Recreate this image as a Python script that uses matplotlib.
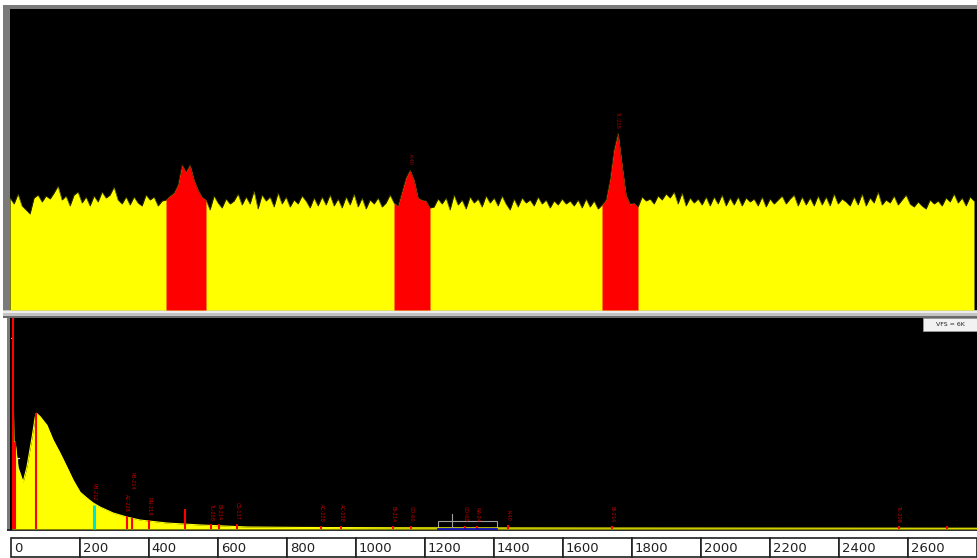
import numpy as np
import matplotlib.pyplot as plt
from matplotlib.patches import Rectangle

W, H = 977, 558

# upper view: one value per 4 px channel, ROI peaks in red
top_counts = [
    112, 106, 116, 104, 100, 96, 112, 115, 108, 114,
    111, 117, 124, 110, 114, 104, 115, 118, 107, 113,
    104, 114, 108, 118, 112, 115, 123, 110, 106, 113,
    105, 113, 107, 104, 115, 110, 113, 104, 109,
    110, 114, 117, 125, 145, 138, 145, 130, 120, 113, 110,
    100, 114, 107, 102, 111, 106, 109, 116, 105, 113,
    106, 119, 101, 115, 109, 113, 103, 117, 106, 113,
    103, 110, 106, 114, 109, 102, 112, 104, 113, 105,
    115, 104, 111, 102, 113, 105, 116, 103, 112, 101,
    110, 106, 112, 103, 107, 115,
    107, 104, 118, 132, 140, 130, 112, 110, 109, 102,
    103, 111, 106, 112, 100, 115, 105, 110, 101, 113, 107, 111, 103, 114,
    107, 112, 104, 114, 106, 100, 111, 103, 112, 107,
    110, 104, 113, 106, 110, 102, 109, 105, 111, 106,
    109, 104, 110, 102, 111, 103, 109, 101,
    105, 110, 130, 160, 177, 145, 115, 106, 107, 103,
    113, 109, 111, 106, 114, 110, 116, 112, 118, 106, 117, 104,
    112, 107, 111, 105, 113, 104, 113, 106, 115, 104,
    112, 105, 113, 104, 112, 108, 111, 104, 113, 103,
    111, 106, 110, 114, 106, 111, 115, 104, 113, 105,
    112, 104, 114, 105, 113, 104, 116, 106, 111, 108,
    104, 113, 105, 116, 104, 112, 107, 118, 105, 110,
    107, 114, 105, 110, 115, 106, 103, 108, 104, 101,
    110, 106, 109, 104, 112, 108, 116, 107, 112, 104, 113, 109,
]
roi_first = [39, 96, 148]
roi_last = [49, 105, 157]
roi_peak = [43, 100, 152]
roi_names = ["", "K-40", "TL-208"]

# lower view: full spectrum, energy in keV, counts (VFS = 6K)
energy_kev = [2, 5, 8, 12, 20, 35, 46, 61, 70, 74, 84, 104, 122, 142, 162,
              180, 200, 220, 238, 258, 296, 336, 374, 452, 548, 684, 838,
              1128, 1707, 2800]
counts = [5420, 5420, 2470, 2470, 1760, 1335, 1760, 2610, 3180, 3290, 3200,
          2950, 2530, 2160, 1760, 1390, 1050, 880, 740, 625, 455, 340, 255,
          170, 115, 57, 45, 35, 28, 22]

marker_kev = [6, 12, 72, 241, 336, 351, 400, 504, 580, 603, 655, 899, 957,
              1107, 1159, 1316, 1351, 1441, 1742, 2574, 2713]
marker_top = [6000, 2470, 3290, 680, 370, 310, 255, 570, 140, 140, 140, 85,
              85, 85, 85, 85, 85, 110, 85, 85, 85]
marker_name = ["", "", "", "PB-212", "AC-228", "PB-214", "RN-219", "",
               "TL-208", "BI-214", "CS-137", "AC-228", "AC-228", "BI-214",
               "CO-60", "CO-60", "NA-24", "K-40", "BI-214", "TL-208", ""]

tick_kev = [0, 200, 400, 600, 800, 1000, 1200, 1400, 1600, 1800, 2000,
            2200, 2400, 2600]


def px_rect(x0, y0, x1, y1, color):
    fig.add_artist(Rectangle((x0 / W, 1 - y1 / H), (x1 - x0) / W, (y1 - y0) / H,
                             transform=fig.transFigure, facecolor=color,
                             edgecolor='none', zorder=-1))


fig = plt.figure(figsize=(W / 100, H / 100), dpi=100)
fig.patch.set_facecolor('white')

# window frames
px_rect(3, 5, 977, 311, '#7a7a7a')
px_rect(3, 310, 977, 318, '#c4c4c4')
px_rect(3, 311, 977, 313, '#ececec')
px_rect(3, 316, 977, 318, '#6a6a6a')
px_rect(7, 318, 10, 531, '#7a7a7a')
px_rect(7, 529, 977, 531, '#303030')

# upper panel
ax1 = fig.add_axes([10 / W, (H - 310) / H, 967 / W, 301 / H])
ax1.set_facecolor('black')
ch = np.arange(len(top_counts))
vals = np.array(top_counts)
ax1.fill_between(ch, vals, color='#ffff00', lw=0)
ax1.plot(ch, vals, color='#3a3a00', lw=0.4)
for a, b, p, name in zip(roi_first, roi_last, roi_peak, roi_names):
    ax1.fill_between(ch[a:b + 1], vals[a:b + 1], color='#ff0000', lw=0)
    if name:
        ax1.text(p, vals[p] + 5, name, color='#a00000', fontsize=3.5,
                 rotation=270, ha='center', va='bottom')
ax1.set_xlim(0, 241.75)
ax1.set_ylim(0, 301)
ax1.set_xticks([])
ax1.set_yticks([])
for s in ax1.spines.values():
    s.set_visible(False)

# lower panel
ax2 = fig.add_axes([10 / W, (H - 530) / H, 967 / W, 212 / H])
ax2.set_facecolor('black')
ax2.fill_between(energy_kev, counts, color='#ffff00', lw=0)
ax2.plot(energy_kev, counts, color='#ffff00', lw=0.8)
ax2.plot([17, 17], [1680, 2020], color='#e0e0e0', lw=1)
ax2.plot([17, 22], [2020, 2020], color='#e0e0e0', lw=0.8)

for e, top, name in zip(marker_kev, marker_top, marker_name):
    col = '#00e0e0' if name == "PB-212" else '#ff0000'
    lw = 2.2 if name == "PB-212" else 1.5
    ax2.plot([e, e], [0, top], color=col, lw=lw, solid_capstyle='butt')
    if name:
        lift = 800 if name == "PB-214" and e == 351 else 120
        ax2.text(e, top + lift, name, color='#c00000', fontsize=3.6,
                 rotation=270, ha='center', va='bottom')

# gray ROI cursor box
ax2.add_patch(Rectangle((1238, 20), 171, 210, fill=False,
                        edgecolor='#a0a0a0', lw=0.8))
ax2.plot([1278, 1278], [0, 430], color='#a0a0a0', lw=0.8)
ax2.plot([1238, 1409], [0, 0], color='#0000c0', lw=1.2)

ax2.set_xlim(-3, 2800)
ax2.set_ylim(-28, 6000)
ax2.set_xticks([])
ax2.set_yticks([])
for s in ax2.spines.values():
    s.set_visible(False)

ax2.add_patch(Rectangle((923 / W, 1 - 331 / H), 54 / W, 13 / H,
                        transform=fig.transFigure, facecolor='#f2f2f2',
                        edgecolor='#9a9a9a', lw=0.6, clip_on=False))
fig.text(950 / W, 1 - 324.5 / H, "VFS = 6K", fontsize=4.5, color='#202020',
         ha='center', va='center')

# energy scale boxes
ax3 = fig.add_axes([10 / W, 0, 967 / W, 22 / H])
ax3.set_xlim(-3, 2800)
ax3.set_ylim(0, 22)
for t in tick_kev:
    ax3.add_patch(Rectangle((t, 1.5), 200, 19, facecolor='white',
                            edgecolor='#202020', lw=1.2))
    ax3.text(t + 8, 10, str(t), fontsize=9.5, color='#202020',
             ha='left', va='center')
ax3.axis('off')

fig.savefig('out.png', dpi=100)
